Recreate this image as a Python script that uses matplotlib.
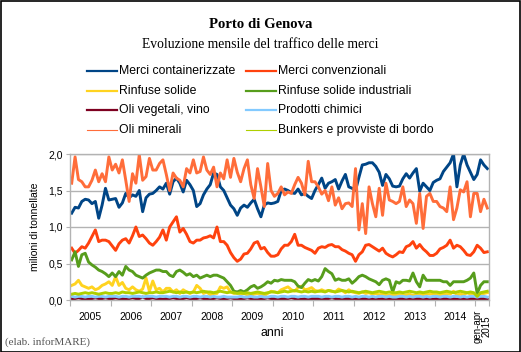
import numpy as np
import matplotlib
matplotlib.use("Agg")
from matplotlib import pyplot as plt
from matplotlib.lines import Line2D
from matplotlib.patches import Rectangle

# monthly values, gen 2005 .. apr 2015 (milioni di tonnellate)
years = ["2005", "2006", "2007", "2008", "2009", "2010", "2011", "2012", "2013", "2014"]
last_label = "gen-apr\n2015"

containerizzate = [
    1.19, 1.27, 1.26, 1.35, 1.38, 1.37, 1.32, 1.35, 1.12, 1.30, 1.53, 1.37,
    1.38, 1.39, 1.27, 1.33, 1.46, 1.40, 1.44, 1.42, 1.50, 1.21, 1.40, 1.45,
    1.46, 1.50, 1.55, 1.52, 1.60, 1.45, 1.62, 1.67, 1.60, 1.48, 1.64, 1.58,
    1.50, 1.28, 1.32, 1.44, 1.52, 1.58, 1.74, 1.72, 1.55, 1.50, 1.40, 1.30,
    1.25, 1.16, 1.26, 1.30, 1.27, 1.33, 1.38, 1.25, 1.14, 1.30, 1.33, 1.32,
    1.33, 1.35, 1.50, 1.52, 1.50, 1.47, 1.46, 1.52, 1.44, 1.46, 1.42, 1.39,
    1.50, 1.58, 1.67, 1.53, 1.60, 1.62, 1.65, 1.52, 1.63, 1.72, 1.55, 1.53,
    1.50, 1.68, 1.85, 1.86, 1.88, 1.88, 1.83, 1.75, 1.57, 1.72, 1.66, 1.56,
    1.55, 1.56, 1.66, 1.73, 1.67, 1.74, 1.80, 1.49, 1.60, 1.55, 1.50, 1.61,
    1.64, 1.66, 1.76, 1.82, 1.88, 2.00, 1.55, 1.85, 2.00, 1.85, 1.75, 1.65,
    1.72, 1.92, 1.85, 1.80,
]
convenzionali = [
    0.71, 0.64, 0.68, 0.73, 0.71, 0.78, 0.87, 0.96, 0.80, 0.82, 0.82, 0.80,
    0.74, 0.68, 0.77, 0.82, 0.84, 0.78, 0.88, 1.00, 0.87, 0.89, 0.84, 0.78,
    0.75, 0.80, 0.86, 0.96, 0.82, 1.00, 1.07, 1.14, 0.93, 0.98, 0.90, 0.80,
    0.78, 0.82, 0.82, 0.85, 0.86, 0.88, 0.85, 1.00, 0.80, 0.80, 0.75, 0.65,
    0.58, 0.53, 0.56, 0.63, 0.64, 0.70, 0.78, 0.80, 0.70, 0.72, 0.65, 0.60,
    0.60, 0.62, 0.70, 0.75, 0.75, 0.80, 0.90, 0.75, 0.75, 0.72, 0.70, 0.68,
    0.64, 0.71, 0.73, 0.72, 0.75, 0.76, 0.73, 0.73, 0.69, 0.67, 0.64, 0.62,
    0.53, 0.62, 0.66, 0.75, 0.76, 0.73, 0.70, 0.67, 0.71, 0.64, 0.61, 0.59,
    0.62, 0.66, 0.65, 0.73, 0.75, 0.80, 0.71, 0.76, 0.70, 0.66, 0.61, 0.61,
    0.64, 0.70, 0.72, 0.75, 0.82, 0.71, 0.75, 0.73, 0.68, 0.62, 0.61, 0.66,
    0.75, 0.71, 0.65, 0.66,
]
rinfuse_solide = [
    0.20, 0.22, 0.27, 0.20, 0.18, 0.16, 0.18, 0.14, 0.16, 0.20, 0.22, 0.25,
    0.20, 0.32, 0.20, 0.24, 0.16, 0.14, 0.18, 0.14, 0.12, 0.15, 0.30, 0.12,
    0.26, 0.14, 0.16, 0.11, 0.16, 0.16, 0.11, 0.14, 0.09, 0.14, 0.11, 0.09,
    0.11, 0.20, 0.16, 0.09, 0.11, 0.07, 0.09, 0.09, 0.18, 0.16, 0.18, 0.11,
    0.09, 0.10, 0.08, 0.09, 0.07, 0.06, 0.08, 0.09, 0.07, 0.06, 0.09, 0.12,
    0.11, 0.10, 0.14, 0.16, 0.18, 0.14, 0.12, 0.17, 0.19, 0.14, 0.15, 0.17,
    0.13, 0.12, 0.14, 0.12, 0.13, 0.12, 0.11, 0.15, 0.13, 0.10, 0.14, 0.11,
    0.10, 0.09, 0.11, 0.09, 0.10, 0.08, 0.09, 0.07, 0.09, 0.06, 0.07, 0.07,
    0.07, 0.08, 0.06, 0.07, 0.08, 0.06, 0.07, 0.09, 0.07, 0.09, 0.08, 0.09,
    0.08, 0.07, 0.08, 0.09, 0.08, 0.12, 0.07, 0.08, 0.07, 0.10, 0.08, 0.07,
    0.07, 0.08, 0.09, 0.10,
]
rinfuse_industriali = [
    0.55, 0.66, 0.46, 0.62, 0.64, 0.52, 0.48, 0.45, 0.41, 0.39, 0.36, 0.32,
    0.37, 0.32, 0.39, 0.34, 0.46, 0.41, 0.39, 0.34, 0.32, 0.30, 0.34, 0.37,
    0.39, 0.41, 0.41, 0.39, 0.39, 0.34, 0.32, 0.39, 0.41, 0.38, 0.34, 0.36,
    0.32, 0.34, 0.30, 0.32, 0.34, 0.32, 0.34, 0.34, 0.32, 0.30, 0.25, 0.20,
    0.12, 0.11, 0.13, 0.11, 0.14, 0.18, 0.20, 0.16, 0.18, 0.21, 0.25, 0.23,
    0.27, 0.26, 0.28, 0.27, 0.27, 0.27, 0.25, 0.19, 0.17, 0.23, 0.28, 0.26,
    0.28, 0.26, 0.32, 0.43, 0.39, 0.36, 0.27, 0.29, 0.27, 0.27, 0.29, 0.23,
    0.27, 0.32, 0.34, 0.32, 0.29, 0.27, 0.25, 0.21, 0.27, 0.29, 0.27, 0.11,
    0.25, 0.23, 0.27, 0.27, 0.26, 0.37, 0.25, 0.18, 0.34, 0.27, 0.27, 0.27,
    0.27, 0.27, 0.25, 0.25, 0.20, 0.25, 0.25, 0.25, 0.25, 0.27, 0.30, 0.37,
    0.09, 0.20, 0.25, 0.25,
]
oli_vegetali = [
    0.02, 0.02, 0.03, 0.02, 0.02, 0.01, 0.02, 0.03, 0.02, 0.02, 0.03, 0.02,
    0.02, 0.03, 0.02, 0.02, 0.01, 0.02, 0.03, 0.02, 0.02, 0.04, 0.02, 0.02,
    0.03, 0.02, 0.02, 0.01, 0.02, 0.02, 0.03, 0.02, 0.02, 0.02, 0.03, 0.02,
    0.02, 0.02, 0.03, 0.02, 0.01, 0.02, 0.02, 0.03, 0.02, 0.02, 0.02, 0.03,
    0.02, 0.02, 0.01, 0.02, 0.03, 0.02, 0.02, 0.02, 0.01, 0.02, 0.03, 0.02,
    0.02, 0.01, 0.02, 0.02, 0.02, 0.03, 0.02, 0.02, 0.01, 0.02, 0.02, 0.02,
    0.02, 0.02, 0.01, 0.02, 0.02, 0.03, 0.02, 0.01, 0.02, 0.02, 0.02, 0.01,
    0.02, 0.01, 0.02, 0.02, 0.01, 0.02, 0.02, 0.01, 0.02, 0.01, 0.02, 0.02,
    0.01, 0.02, 0.02, 0.01, 0.02, 0.01, 0.02, 0.02, 0.01, 0.02, 0.02, 0.01,
    0.02, 0.01, 0.02, 0.02, 0.01, 0.02, 0.01, 0.02, 0.02, 0.01, 0.02, 0.02,
    0.01, 0.02, 0.02, 0.01,
]
prodotti_chimici = [
    0.05, 0.04, 0.05, 0.05, 0.04, 0.05, 0.05, 0.04, 0.05, 0.05, 0.04, 0.05,
    0.05, 0.05, 0.04, 0.05, 0.05, 0.04, 0.05, 0.05, 0.05, 0.04, 0.05, 0.05,
    0.05, 0.04, 0.05, 0.05, 0.05, 0.04, 0.05, 0.05, 0.04, 0.05, 0.05, 0.04,
    0.05, 0.05, 0.04, 0.05, 0.05, 0.04, 0.05, 0.04, 0.04, 0.05, 0.04, 0.04,
    0.04, 0.04, 0.05, 0.04, 0.04, 0.05, 0.04, 0.04, 0.05, 0.04, 0.04, 0.05,
    0.05, 0.04, 0.05, 0.05, 0.04, 0.05, 0.05, 0.04, 0.05, 0.05, 0.04, 0.05,
    0.05, 0.05, 0.04, 0.05, 0.05, 0.04, 0.05, 0.05, 0.04, 0.05, 0.05, 0.04,
    0.05, 0.04, 0.05, 0.05, 0.04, 0.05, 0.04, 0.05, 0.05, 0.04, 0.05, 0.04,
    0.04, 0.05, 0.05, 0.04, 0.05, 0.04, 0.05, 0.05, 0.04, 0.05, 0.04, 0.05,
    0.05, 0.04, 0.05, 0.05, 0.04, 0.05, 0.05, 0.04, 0.05, 0.04, 0.05, 0.05,
    0.04, 0.05, 0.05, 0.04,
]
oli_minerali = [
    1.60, 1.96, 1.65, 1.62, 1.55, 1.55, 1.64, 1.78, 1.62, 1.73, 1.62, 1.96,
    1.78, 1.86, 1.74, 1.92, 1.64, 1.35, 1.73, 1.60, 1.99, 1.64, 1.69, 1.94,
    1.78, 1.78, 1.87, 1.92, 1.72, 1.50, 1.74, 1.67, 1.64, 1.55, 1.80, 1.74,
    1.92, 1.74, 1.76, 1.96, 1.78, 1.72, 1.82, 1.55, 1.74, 1.66, 1.92, 1.68,
    1.94, 1.75, 1.62, 1.80, 1.92, 1.58, 1.39, 1.80, 1.55, 1.28, 1.87, 1.50,
    1.42, 1.46, 1.55, 1.44, 1.48, 1.46, 1.58, 1.68, 1.60, 1.44, 1.90, 1.62,
    1.62, 1.55, 1.45, 1.50, 1.36, 1.55, 1.30, 1.40, 1.25, 1.32, 1.33, 1.28,
    1.80, 0.96, 1.32, 0.91, 1.55, 1.32, 1.14, 1.53, 1.16, 1.60, 1.37, 1.35,
    1.32, 1.35, 1.55, 1.28, 1.37, 1.32, 1.05, 1.46, 0.98, 1.42, 1.46, 1.35,
    1.35, 1.28, 1.26, 1.21, 1.55, 1.10, 1.26, 1.51, 1.48, 1.62, 1.14, 1.46,
    1.46, 1.21, 1.38, 1.26,
]
bunkers = [
    0.08, 0.09, 0.08, 0.09, 0.10, 0.09, 0.10, 0.09, 0.08, 0.09, 0.10, 0.09,
    0.09, 0.10, 0.09, 0.11, 0.10, 0.10, 0.09, 0.10, 0.11, 0.10, 0.09, 0.10,
    0.10, 0.11, 0.10, 0.10, 0.11, 0.12, 0.11, 0.10, 0.11, 0.10, 0.11, 0.10,
    0.11, 0.10, 0.11, 0.12, 0.11, 0.11, 0.10, 0.11, 0.12, 0.11, 0.10, 0.11,
    0.10, 0.09, 0.10, 0.09, 0.10, 0.09, 0.10, 0.11, 0.10, 0.09, 0.10, 0.11,
    0.11, 0.10, 0.11, 0.12, 0.11, 0.12, 0.13, 0.12, 0.11, 0.12, 0.11, 0.12,
    0.11, 0.12, 0.12, 0.11, 0.13, 0.12, 0.11, 0.12, 0.13, 0.12, 0.11, 0.12,
    0.11, 0.10, 0.11, 0.12, 0.11, 0.10, 0.11, 0.12, 0.11, 0.10, 0.11, 0.10,
    0.10, 0.11, 0.10, 0.11, 0.12, 0.11, 0.10, 0.11, 0.10, 0.11, 0.12, 0.11,
    0.11, 0.10, 0.11, 0.12, 0.11, 0.10, 0.11, 0.12, 0.11, 0.10, 0.11, 0.10,
    0.05, 0.10, 0.11, 0.12,
]

series = [
    ("Merci containerizzate", containerizzate, "#004586"),
    ("Merci convenzionali", convenzionali, "#ff420e"),
    ("Rinfuse solide", rinfuse_solide, "#ffd320"),
    ("Rinfuse solide industriali", rinfuse_industriali, "#579d1c"),
    ("Oli vegetali, vino", oli_vegetali, "#7e0021"),
    ("Prodotti chimici", prodotti_chimici, "#83caff"),
    ("Oli minerali", oli_minerali, "#ff6d3a"),
    ("Bunkers e provviste di bordo", bunkers, "#aecf00"),
]
thin_in_legend = ("Oli minerali", "Bunkers e provviste di bordo")

W, H = 521, 352
fig = plt.figure(figsize=(W / 100, H / 100), dpi=100)
fig.patch.set_facecolor("white")
fig.add_artist(Rectangle((0.5 / W, 0.5 / H), 1 - 1.5 / W, 1 - 1.5 / H, transform=fig.transFigure,
                         fill=False, edgecolor="black", lw=1.2))

serif = "Liberation Serif"
sans = "Liberation Sans"
grey = "#b3b3b3"

fig.text(0.5, 1 - 24 / H, "Porto di Genova", ha="center", va="center",
         family=serif, fontsize=10.6, fontweight="bold")
fig.text(0.5, 1 - 45 / H, "Evoluzione mensile del traffico delle merci", ha="center", va="center",
         family=serif, fontsize=9.8)

# legend, row by row as in the original
for i, (name, _, color) in enumerate(series):
    row, col = divmod(i, 2)
    x0 = (87 if col == 0 else 246) / W
    y = 1 - (71 + row * 19.7) / H
    lw = 0.8 if name in thin_in_legend else 1.6
    fig.add_artist(Line2D([x0, x0 + 30 / W], [y, y], color=color, lw=lw,
                          transform=fig.transFigure))
    fig.text(x0 + 32 / W, y, name, ha="left", va="center", family=sans, fontsize=8.8)

ax = fig.add_axes([70 / W, 1 - 300 / H, 419 / W, 146 / H])
x = np.arange(len(containerizzate))
for name, vals, color in series:
    ax.plot(x, vals, color=color, lw=2.1, solid_joinstyle="round")

ax.set_xlim(-0.5, len(x) - 0.5)
ax.set_ylim(0, 2.0)
yt = np.arange(0, 2.01, 0.5)
ax.set_yticks(yt)
ax.set_yticklabels([f"{v:.1f}".replace(".", ",") for v in yt], family=sans, fontsize=7.5)
ax.yaxis.grid(True, color=grey, lw=1.0)
ax.set_axisbelow(True)
for sp in ax.spines.values():
    sp.set_color(grey)
    sp.set_linewidth(1.0)

bounds = list(np.arange(-0.5, len(x), 12)) + [len(x) - 0.5]
ax.set_xticks(bounds)
ax.set_xticklabels([""] * len(bounds))
ax.set_xticks(np.arange(5.5, 120, 12), minor=True)
ax.set_xticklabels(years, minor=True, family=sans, fontsize=7.5)
ax.tick_params(axis="x", which="major", direction="out", length=4, color=grey)
ax.tick_params(axis="x", which="minor", length=0, pad=9)
ax.tick_params(axis="y", direction="out", length=3, color=grey, pad=2)
ax.text(121.5, -0.13, last_label, rotation=90, ha="center", va="top", family=sans,
        fontsize=7, linespacing=0.9, transform=ax.transData, clip_on=False)

ax.set_ylabel("milioni di tonnellate", family=sans, fontsize=7.5, labelpad=6)
fig.text(272 / W, 1 - 333 / H, "anni", ha="center", va="center", family=sans, fontsize=8.8)
fig.text(5 / W, 1 - 342 / H, "(elab. inforMARE)", ha="left", va="center", family=serif,
         fontsize=8, color="#555555")

fig.savefig("out.png", dpi=100)
